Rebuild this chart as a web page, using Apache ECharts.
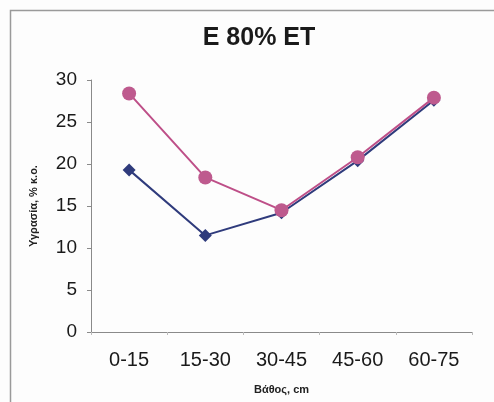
<!DOCTYPE html>
<html>
<head>
<meta charset="utf-8">
<script src="https://cdn.jsdelivr.net/npm/echarts@6/dist/echarts.min.js"></script>
<style>
  html, body { margin: 0; padding: 0; background: #fdfdfd; }
  #chart { width: 494px; height: 402px; }
</style>
</head>
<body>
<div id="chart"></div>
<script>
const depths = ["0-15", "15-30", "30-45", "45-60", "60-75"];
const pinkValues = [28.4, 18.4, 14.5, 20.8, 27.9];
const blueValues = [19.3, 11.5, 14.2, 20.4, 27.6];

const chart = echarts.init(document.getElementById("chart"), null, { renderer: "canvas" });

const axisGray = "#8a8a8a";
const font = "Liberation Sans, Arial, sans-serif";

chart.setOption({
  backgroundColor: "#fdfdfd",
  animation: false,
  graphic: [{
    type: "rect",
    left: 8, top: 8,
    shape: { width: 520, height: 440 },
    style: { fill: "none", stroke: "#9a9a9a", lineWidth: 1.5 },
    silent: true,
  }],
  title: {
    text: "E 80% ET",
    left: 254, top: 21,
    textAlign: "center",
    textStyle: { fontFamily: font, fontSize: 25, fontWeight: "bold", color: "#1a1a1a" },
  },
  grid: { left: 91, right: 22, top: 80, bottom: 70 },
  xAxis: {
    type: "category",
    data: depths,
    boundaryGap: true,
    name: "Βάθος, cm",
    nameLocation: "middle",
    nameGap: 52,
    nameTextStyle: { fontFamily: font, fontSize: 11, fontWeight: "bold", color: "#222" },
    axisLine: { lineStyle: { color: axisGray, width: 1 } },
    axisTick: { show: true, length: 3, inside: false, lineStyle: { color: "#bbb" } },
    axisLabel: { fontFamily: font, fontSize: 20, color: "#1a1a1a", margin: 18 },
    splitLine: { show: false },
  },
  yAxis: {
    type: "value",
    min: 0, max: 30, interval: 5,
    name: "Υγρασία, % κ.ο.",
    nameLocation: "middle",
    nameGap: 52,
    nameRotate: 90,
    nameTextStyle: { fontFamily: font, fontSize: 11, fontWeight: "bold", color: "#222" },
    axisLine: { show: true, lineStyle: { color: axisGray, width: 1 } },
    axisTick: { show: true, length: 4, lineStyle: { color: axisGray } },
    axisLabel: { fontFamily: font, fontSize: 19, color: "#1a1a1a", margin: 14 },
    splitLine: { show: false },
  },
  series: [
    {
      name: "blue",
      type: "line",
      data: blueValues,
      symbol: "diamond",
      symbolSize: 13,
      lineStyle: { color: "#2f3b7c", width: 2 },
      itemStyle: { color: "#2f3b7c" },
      z: 2,
    },
    {
      name: "pink",
      type: "line",
      data: pinkValues,
      symbol: "circle",
      symbolSize: 14,
      lineStyle: { color: "#be4f88", width: 2 },
      itemStyle: { color: "#be5a8e" },
      z: 3,
    },
  ],
});
</script>
</body>
</html>
